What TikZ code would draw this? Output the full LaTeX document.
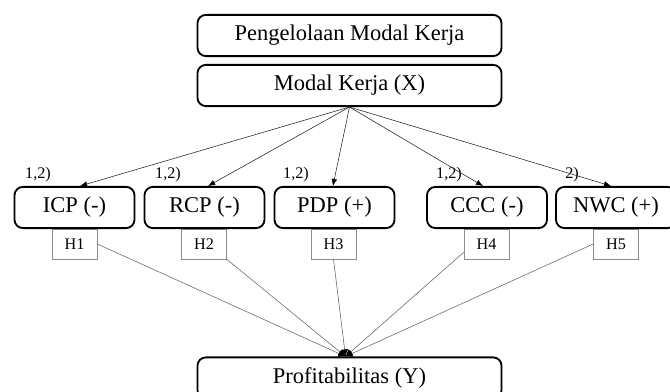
\documentclass[tikz,border=0pt]{standalone}
\usepackage{fontspec}
\setmainfont{Liberation Serif}
\usetikzlibrary{arrows.meta}

\begin{document}
\begin{tikzpicture}[x=0.025cm, y=-0.025cm,
    every node/.style={font=\fontsize{16}{18}\selectfont},
    bigbox/.style={draw, line width=1.3pt, rounded corners=6pt, minimum width=7.6cm, minimum height=1.03cm},
    varbox/.style={draw, line width=1.3pt, rounded corners=6pt, minimum width=3.0cm, minimum height=1.03cm},
    hypbox/.style={draw=black!45, thin, fill=white, minimum width=1.125cm, minimum height=0.75cm, font=\fontsize{11.5}{13}\selectfont},
    note/.style={inner sep=0pt, font=\fontsize{11.5}{13}\selectfont},
    fan/.style={draw=black!85, -{Latex[length=5pt,width=4pt,color=black]}},
    hline/.style={draw=black!60, -{Latex[length=5pt,width=5pt,color=black]}}]
                \clip (0,0) rectangle (670,392);

                \node[bigbox] (pengelolaan) at (349.5,35.5) {Pengelolaan Modal Kerja};
                \node[bigbox] (modal) at (349.5,85.5) {Modal Kerja (X)};

                \node[hypbox] (h1) at (74.5,244) {H1};
                \node[hypbox] (h2) at (204,244) {H2};
                \node[hypbox] (h3) at (333.5,244) {H3};
                \node[hypbox] (h4) at (486.5,244) {H4};
                \node[hypbox] (h5) at (616,244) {H5};

                \node[varbox] (icp) at (74.5,207.5) {ICP (-)};
                \node[varbox] (rcp) at (204.5,207.5) {RCP (-)};
                \node[varbox] (pdp) at (334.5,207.5) {PDP (+)};
                \node[varbox] (ccc) at (487,207.5) {CCC (-)};
                \node[varbox] (nwc) at (616,207.5) {NWC (+)};

                \node[note] (n1) at (38,175) {1,2)};
                \node[note] (n2) at (168,175) {1,2)};
                \node[note] (n3) at (296,175) {1,2)};
                \node[note] (n4) at (449,175) {1,2)};
                \node[note] (n5) at (572,175) {2)};

                \node[bigbox] (profit) at (349.5,378) {Profitabilitas (Y)};
                \coordinate (conv) at ([xshift=-0.1cm]profit.north);

                % modal kerja ke tiap rasio
                \draw[fan] (modal.south) -- ([xshift=0.14cm]icp.north);
                \draw[fan] (modal.south) -- ([xshift=0.09cm]rcp.north);
                \draw[fan] (modal.south) -- ([xshift=-0.04cm]pdp.north);
                \draw[fan] (modal.south) -- ([xshift=-0.1cm]ccc.north);
                \draw[fan] (modal.south) -- ([xshift=-0.125cm]nwc.north);

                % hipotesis ke profitabilitas
                \draw[hline] (h1.east) -- (conv);
                \draw[hline] (h2.south east) -- (conv);
                \draw[hline] (h3.south) -- (conv);
                \draw[hline] (h4.200) -- (conv);
                \draw[hline] (h5.west) -- (conv);
\end{tikzpicture}
\end{document}
